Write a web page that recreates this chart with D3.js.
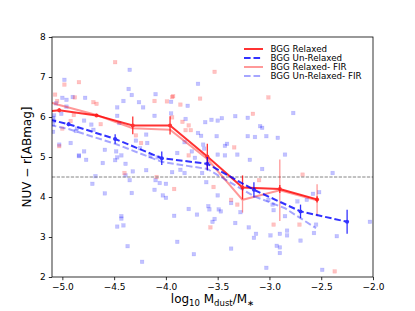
<!DOCTYPE html>
<html>
<head>
<meta charset="utf-8">
<script src="https://cdn.jsdelivr.net/npm/d3@7"></script>
<style>
  body { margin: 0; background: #fff; }
  svg { font-family: "DejaVu Sans", sans-serif; }
</style>
</head>
<body>
<div id="chart"></div>
<script>
// binned means (first bin sits left of the visible range and gets clipped)
const relX   = [-5.39, -5.03, -4.67, -4.32, -3.96, -3.60, -3.26, -2.90, -2.54];
const relY   = [6.08, 6.17, 6.04, 5.79, 5.79, 5.01, 4.24, 4.20, 3.94];
const relErr = [0.05, 0.05, 0.04, 0.22, 0.23, 0.32, 0.30, 0.10, 0.08];

const unrelX   = [-5.39, -4.94, -4.49, -4.04, -3.60, -3.15, -2.70, -2.25];
const unrelY   = [6.10, 5.82, 5.45, 4.97, 4.83, 4.18, 3.64, 3.38];
const unrelErr = [0.05, 0.05, 0.12, 0.17, 0.17, 0.19, 0.17, 0.30];

const firRelX   = [-5.39, -5.03, -4.67, -4.32, -3.96, -3.60, -3.26, -2.90, -2.54];
const firRelY   = [6.57, 6.30, 6.05, 5.72, 5.68, 4.95, 3.93, 4.17, 3.92];
const firRelErr = [0, 0, 0, 0, 0, 0, 0.32, 0.77, 0.40];

const firUnrelX = [-5.39, -4.94, -4.49, -4.04, -3.60, -3.15, -2.85, -2.55];
const firUnrelY = [5.95, 5.70, 5.33, 4.88, 4.70, 4.02, 3.72, 3.22];

// individual galaxies
const blueX = [-4.35, -4.98, -4.36, -5.00, -4.96, -4.78, -4.41, -4.33, -4.26, -5.06, -4.96, -4.47, -4.22, -4.11, -5.08,
  -5.01, -4.79, -4.72, -4.47, -4.45, -4.86, -4.70, -5.09, -4.87, -4.19, -4.18, -5.03, -4.92, -4.79, -4.59,
  -4.48, -4.29, -4.25, -4.84, -4.43, -4.10, -4.90, -5.09, -5.08, -5.09,
  -3.69, -3.95, -3.79, -3.95, -3.81, -3.46, -3.50, -3.33, -3.21, -3.09, -3.62, -3.69, -3.66, -3.51, -3.82,
  -3.64, -3.43, -3.41, -3.21, -3.14, -3.03, -3.89, -3.75, -3.50, -3.43, -3.31,
  -2.77, -2.92, -2.85, -3.07, -3.19, -3.63, -3.56,
  -4.84, -4.77, -4.61, -4.49, -4.47, -4.39, -4.32, -4.19, -4.39, -4.68, -4.35, -4.10, -4.71, -4.06, -4.11,
  -4.59, -4.33, -4.43, -4.43, -4.47, -4.41, -4.37, -4.23, -4.15, -4.08,
  -3.94, -3.86, -3.82, -3.72, -3.65, -4.00, -4.03, -4.00, -3.61, -3.50, -3.78, -3.92, -3.70, -3.59, -3.58,
  -3.49, -3.47, -3.53, -3.55, -3.37, -3.28, -3.33, -3.89, -3.73, -3.37, -3.20, -3.13, -3.15, -3.07, -3.03,
  -2.39, -3.01, -2.97, -2.73, -2.64, -2.58, -2.52, -2.96, -2.85, -2.55, -2.57, -2.99, -2.90, -2.83, -2.83,
  -2.35, -2.70, -2.93, -2.90, -2.90, -2.49, -2.03];
const blueY = [7.18, 6.93, 6.70, 6.48, 6.43, 6.48, 6.40, 6.55, 6.37, 6.34, 6.26, 6.24, 6.24, 6.03, 6.04,
  6.08, 5.91, 5.81, 6.03, 5.85, 5.71, 5.68, 5.63, 5.65, 5.56, 5.35, 5.31, 5.35, 5.14, 5.18,
  5.14, 5.41, 5.22, 5.04, 5.04, 6.57, 6.50, 5.98, 5.91, 5.82,
  6.83, 6.38, 6.28, 6.09, 5.95, 5.97, 5.91, 6.02, 5.98, 5.77, 5.87, 5.60, 5.53, 5.52, 5.37,
  5.31, 5.28, 5.33, 5.52, 5.50, 5.52, 5.10, 5.14, 5.06, 5.04, 5.06,
  6.10, 5.48, 5.06, 5.73, 4.93, 5.21, 5.93,
  5.02, 4.93, 4.85, 4.92, 4.99, 4.83, 4.64, 4.67, 4.54, 4.52, 4.42, 4.42, 4.33, 4.35, 4.18,
  4.09, 4.10, 3.52, 3.46, 3.26, 3.29, 2.77, 2.38, 5.02, 4.99,
  4.62, 4.68, 4.60, 4.98, 4.60, 4.33, 4.04, 3.98, 4.37, 4.04, 3.70, 3.53, 3.56, 3.77, 3.69,
  3.69, 3.64, 3.45, 3.38, 3.85, 3.62, 3.35, 2.88, 2.57, 2.71, 3.24, 3.08, 2.98, 4.70, 2.23,
  4.60, 3.93, 3.81, 3.89, 3.93, 4.08, 4.12, 3.67, 3.52, 3.31, 3.10, 3.04, 3.08, 3.16, 3.04,
  3.02, 2.91, 2.78, 2.74, 2.60, 2.18, 3.38];

const redX = [-4.49, -4.98, -4.84, -5.07, -4.88, -4.70, -4.89, -4.92, -4.63, -5.00, -4.29, -4.24, -5.03, -5.05, -4.67,
  -4.11, -3.99, -3.94, -3.53, -3.67, -3.93, -3.86, -3.16, -3.01, -3.94, -3.84, -3.78, -3.81, -3.76, -3.34,
  -3.78, -4.40, -4.09, -3.92, -3.54, -3.57, -3.37, -3.31, -3.10, -2.68, -2.96, -2.71, -2.37];
const redY = [7.37, 6.81, 6.87, 6.56, 6.49, 6.37, 6.05, 5.90, 5.82, 5.71, 5.54, 5.35, 5.27, 6.40, 6.33,
  6.40, 6.39, 6.50, 7.13, 6.46, 6.52, 6.31, 6.08, 6.49, 5.99, 5.88, 5.79, 5.67, 5.67, 5.24,
  5.04, 4.60, 4.50, 4.20, 4.25, 3.24, 3.93, 3.81, 4.42, 4.56, 3.31, 3.31, 2.14];

const xTicks = [-5.0, -4.5, -4.0, -3.5, -3.0, -2.5, -2.0];
const yTicks = [2, 3, 4, 5, 6, 7, 8];
const legendLabels = ["BGG Relaxed", "BGG Un-Relaxed", "BGG Relaxed- FIR", "BGG Un-Relaxed- FIR"];

const W = 415, H = 311;
const margin = { top: 37, right: 42, bottom: 34, left: 52 };
const width = W - margin.left - margin.right,
      height = H - margin.top - margin.bottom;

const svg = d3.select("#chart").append("svg")
    .attr("width", W).attr("height", H);
const g = svg.append("g").attr("transform", `translate(${margin.left},${margin.top})`);

const x = d3.scaleLinear().domain([-5.1, -2.0]).range([0, width]);
const y = d3.scaleLinear().domain([2, 8]).range([height, 0]);

g.append("clipPath").attr("id", "clip")
  .append("rect").attr("width", width).attr("height", height);

const plot = g.append("g").attr("clip-path", "url(#clip)");

// scatter
const sq = 3.6;
function scatter(xs, ys, color) {
  plot.append("g").selectAll("rect")
    .data(xs.map((d, i) => [d, ys[i]]))
    .join("rect")
    .attr("x", d => x(d[0]) - sq / 2).attr("y", d => y(d[1]) - sq / 2)
    .attr("width", sq).attr("height", sq)
    .attr("fill", color).attr("fill-opacity", 0.24)
    .attr("stroke", color).attr("stroke-opacity", 0.14).attr("stroke-width", 0.6);
}
scatter(blueX, blueY, "#0000ff");
scatter(redX, redY, "#ff0000");

// threshold line
plot.append("line")
  .attr("x1", 0).attr("x2", width)
  .attr("y1", y(4.5)).attr("y2", y(4.5))
  .attr("stroke", "#777").attr("stroke-width", 0.9)
  .attr("stroke-dasharray", "3.3,1.4");

const line = d3.line().x(d => x(d[0])).y(d => y(d[1]));

function series(xs, ys, errs, color, opacity, dash, withMarkers) {
  const pts = xs.map((d, i) => [d, ys[i]]);
  const s = plot.append("g").attr("opacity", opacity);
  if (errs) {
    s.selectAll("line.err")
      .data(pts.map((p, i) => [p[0], p[1], errs[i]]).filter(d => d[2] > 0))
      .join("line")
      .attr("x1", d => x(d[0])).attr("x2", d => x(d[0]))
      .attr("y1", d => y(d[1] - d[2])).attr("y2", d => y(d[1] + d[2]))
      .attr("stroke", color).attr("stroke-width", 1.3);
  }
  s.append("path")
    .attr("d", line(pts))
    .attr("fill", "none")
    .attr("stroke", color).attr("stroke-width", 2)
    .attr("stroke-dasharray", dash);
  if (withMarkers) {
    s.selectAll("circle")
      .data(pts).join("circle")
      .attr("cx", d => x(d[0])).attr("cy", d => y(d[1]))
      .attr("r", 2).attr("fill", color);
  }
}

series(firRelX, firRelY, firRelErr, "#ff0000", 0.4, null, false);
series(firUnrelX, firUnrelY, null, "#0000ff", 0.35, "6.6,2.9", false);
series(relX, relY, relErr, "#ff0000", 0.8, null, true);
series(unrelX, unrelY, unrelErr, "#0000ff", 0.8, "6.6,2.9", true);

// frame
g.append("rect").attr("width", width).attr("height", height)
  .attr("fill", "none").attr("stroke", "#000").attr("stroke-width", 0.8);

// axes
const xAxis = g.append("g").attr("transform", `translate(0,${height})`)
  .call(d3.axisBottom(x).tickValues(xTicks).tickFormat(d3.format(".1f"))
    .tickSize(3.2).tickPadding(3).tickSizeOuter(0));
const yAxis = g.append("g")
  .call(d3.axisLeft(y).tickValues(yTicks).tickFormat(d3.format("d"))
    .tickSize(3.2).tickPadding(3).tickSizeOuter(0));
[xAxis, yAxis].forEach(a => {
  a.select(".domain").remove();
  a.selectAll("text").attr("font-size", 9).attr("font-family", "DejaVu Sans").attr("fill", "#000");
  a.selectAll("line").attr("stroke", "#000").attr("stroke-width", 0.8);
});

// axis labels
const xl = svg.append("text")
  .attr("x", margin.left + width / 2).attr("y", 303)
  .attr("text-anchor", "middle").attr("font-size", 12);
xl.append("tspan").text("log");
xl.append("tspan").text("10").attr("font-size", 8.5).attr("dy", 2.5);
xl.append("tspan").text(" M").attr("dy", -2.5);
xl.append("tspan").text("dust").attr("font-size", 8.5).attr("dy", 2.5);
xl.append("tspan").text("/M").attr("dy", -2.5);
xl.append("tspan").text("∗").attr("font-size", 8.5).attr("dy", 2.5);

svg.append("text")
  .attr("transform", `translate(30.5,${margin.top + height / 2}) rotate(-90)`)
  .attr("text-anchor", "middle").attr("font-size", 12)
  .text("NUV − r[ABmag]");

// legend
const legStyles = [
  { color: "#ff0000", op: 0.8, dash: null },
  { color: "#0000ff", op: 0.8, dash: "6.6,2.9" },
  { color: "#ff0000", op: 0.4, dash: null },
  { color: "#0000ff", op: 0.35, dash: "6.6,2.9" }
];
const legend = svg.append("g").attr("transform", "translate(244,49)")
  .selectAll("g").data(legendLabels).join("g")
  .attr("transform", (d, i) => `translate(0,${i * 9})`);
legend.append("line")
  .attr("x1", 0).attr("x2", 19).attr("y1", 0).attr("y2", 0)
  .attr("stroke", (d, i) => legStyles[i].color)
  .attr("stroke-opacity", (d, i) => legStyles[i].op)
  .attr("stroke-width", 2)
  .attr("stroke-dasharray", (d, i) => legStyles[i].dash);
legend.append("text")
  .attr("x", 26.5).attr("dy", "0.35em")
  .attr("font-size", 8.7)
  .text(d => d);
</script>
</body>
</html>
